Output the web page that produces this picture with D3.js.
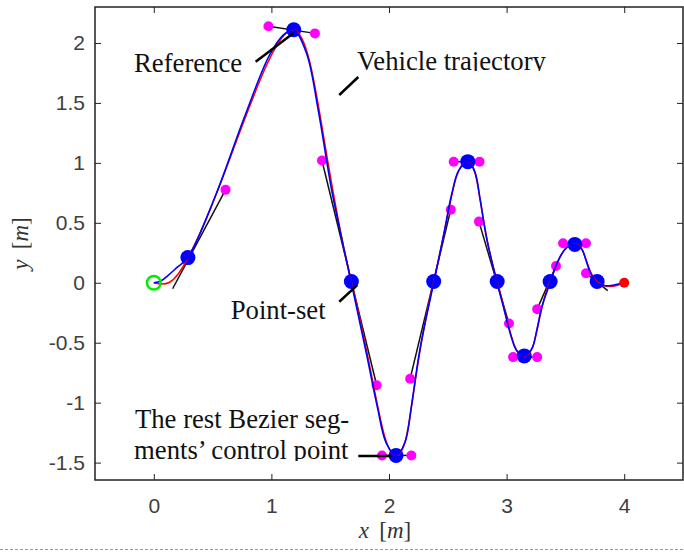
<!DOCTYPE html>
<html>
<head>
<meta charset="utf-8">
<script src="https://cdn.jsdelivr.net/npm/d3@7"></script>
<style>
  body { margin: 0; background: #fff; }
  svg { display: block; }
</style>
</head>
<body>
<svg id="chart"></svg>
<script>
var outerWidth = 684, outerHeight = 552

// axis ticks
var xTicks = [0, 1, 2, 3, 4]
var yTicks = [-1.5, -1, -0.5, 0, 0.5, 1, 1.5, 2]

// point-set (blue dots)
var pointX = [0.29, 1.19, 1.68, 2.06, 2.38, 2.67, 2.92, 3.15, 3.37, 3.58, 3.77]
var pointY = [0.21, 2.11, 0.01, -1.44, 0.01, 1.01, 0.01, -0.61, 0.01, 0.32, 0.01]

// Bezier control points before (in) and after (out) each point-set point
var ctrlInX  = [0.16, 0.975, 1.43, 1.94, 2.18, 2.55, 2.765, 3.055, 3.26, 3.48, 3.675]
var ctrlInY  = [-0.05, 2.14, 1.02, -1.44, -0.80, 1.01, 0.51, -0.62, -0.22, 0.33, 0.08]
var ctrlOutX = [0.61, 1.37, 1.895, 2.19, 2.525, 2.77, 3.02, 3.26, 3.42, 3.675, 3.86]
var ctrlOutY = [0.775, 2.08, -0.855, -1.44, 0.61, 1.01, -0.34, -0.62, 0.14, 0.33, -0.065]

var startPt = [0, 0], endPt = [4, 0], startCtrl = [0.08, -0.02]

// vehicle trajectory
var trajX = [0, 0.06, 0.12, 0.2, 0.29, 0.53, 0.77, 0.985, 1.105, 1.19, 1.3, 1.4, 1.515, 1.68,
             1.808, 1.902, 1.976, 2.06, 2.136, 2.192, 2.262, 2.38, 2.468, 2.531, 2.592, 2.67,
             2.73, 2.775, 2.83, 2.92, 2.983, 3.035, 3.086, 3.15, 3.215, 3.258, 3.303, 3.37,
             3.408, 3.454, 3.51, 3.58, 3.636, 3.673, 3.712, 3.77, 3.82, 3.87, 3.93, 4.0]
var trajY = [0, 0.015, 0.06, 0.13, 0.21, 0.74, 1.38, 1.9, 2.07, 2.11, 1.91, 1.43, 0.76, 0,
             -0.59, -1.04, -1.335, -1.44, -1.33, -1.02, -0.56, 0, 0.415, 0.73, 0.935, 1.01,
             0.925, 0.695, 0.37, 0, -0.24, -0.436, -0.567, -0.61, -0.55, -0.39, -0.19, 0,
             0.11, 0.216, 0.294, 0.32, 0.285, 0.194, 0.085, 0, -0.02, -0.025, -0.015, 0]

var svg = d3.select("svg#chart")
            .attr("width", outerWidth)
            .attr("height", outerHeight)

var xScale = d3.scaleLinear().domain([-0.5, 4.5]).range([95, 683])
var yScale = d3.scaleLinear().domain([-1.645, 2.3]).range([480, 7])

var x0 = xScale.range()[0], x1 = xScale.range()[1]
var yB = yScale.range()[0], yT = yScale.range()[1]

var fmt = function(d) { return String(d) }
var tickFont = "'Liberation Sans', Arial, sans-serif"
var serif = "'Liberation Serif', 'Times New Roman', serif"

function styleAxis(g, showLabels) {
    g.select(".domain").remove()
    g.selectAll(".tick line").attr("stroke", "#222").attr("stroke-width", 1)
    g.selectAll(".tick text")
        .attr("fill", "#404040")
        .attr("font-family", tickFont)
        .attr("font-size", "21px")
    if (!showLabels) g.selectAll(".tick text").remove()
}

svg.append("g").attr("transform", "translate(0," + yB + ")")
    .call(d3.axisBottom(xScale).tickValues(xTicks).tickSize(-6).tickPadding(18).tickFormat(fmt))
    .call(styleAxis, true)
svg.append("g").attr("transform", "translate(0," + yT + ")")
    .call(d3.axisTop(xScale).tickValues(xTicks).tickSize(-6))
    .call(styleAxis, false)
svg.append("g").attr("transform", "translate(" + x0 + ",0)")
    .call(d3.axisLeft(yScale).tickValues(yTicks).tickSize(-6).tickPadding(10).tickFormat(fmt))
    .call(styleAxis, true)
svg.append("g").attr("transform", "translate(" + x1 + ",0)")
    .call(d3.axisRight(yScale).tickValues(yTicks).tickSize(-6))
    .call(styleAxis, false)

svg.append("rect")
    .attr("x", x0).attr("y", yT)
    .attr("width", x1 - x0).attr("height", yB - yT)
    .attr("fill", "none").attr("stroke", "#222").attr("stroke-width", 1.5)

// axis labels
var xl = svg.append("text")
    .attr("x", (x0 + x1) / 2 - 4).attr("y", 538)
    .attr("text-anchor", "middle")
    .attr("font-family", serif).attr("font-size", "23px").attr("fill", "#333")
xl.append("tspan").attr("font-style", "italic").text("x")
xl.append("tspan").text("\u2009 [")
xl.append("tspan").attr("font-style", "italic").text("m")
xl.append("tspan").text("]")

var yl = svg.append("text")
    .attr("transform", "translate(28," + (yB + yT) / 2 + ") rotate(-90)")
    .attr("text-anchor", "middle")
    .attr("font-family", serif).attr("font-size", "23px").attr("fill", "#333")
yl.append("tspan").attr("font-style", "italic").text("y")
yl.append("tspan").text("\u2009 [")
yl.append("tspan").attr("font-style", "italic").text("m")
yl.append("tspan").text("]")

// dashed frame line at bottom
svg.append("line")
    .attr("x1", 0).attr("x2", outerWidth).attr("y1", 549.5).attr("y2", 549.5)
    .attr("stroke", "#999").attr("stroke-width", 1).attr("stroke-dasharray", "3,2")

var plot = svg.append("g")

// tangent lines through each point-set point
plot.selectAll("line.tangent")
    .data(pointX)
    .enter()
    .append("line")
    .attr("class", "tangent")
    .attr("x1", function(d, i) { return xScale(ctrlInX[i]) })
    .attr("y1", function(d, i) { return yScale(ctrlInY[i]) })
    .attr("x2", function(d, i) { return xScale(ctrlOutX[i]) })
    .attr("y2", function(d, i) { return yScale(ctrlOutY[i]) })
    .attr("stroke", "#111")
    .attr("stroke-width", 1.5)

// magenta control points (first and last hidden)
var magenta = []
pointX.forEach(function(d, i) {
    if (i > 0) magenta.push([ctrlInX[i], ctrlInY[i]])
    if (i < pointX.length - 1) magenta.push([ctrlOutX[i], ctrlOutY[i]])
})
plot.selectAll("circle.ctrl")
    .data(magenta)
    .enter()
    .append("circle")
    .attr("class", "ctrl")
    .attr("cx", function(d) { return xScale(d[0]) })
    .attr("cy", function(d) { return yScale(d[1]) })
    .attr("r", 5)
    .attr("fill", "#ff00ff")

plot.selectAll("circle.pt")
    .data(pointX)
    .enter()
    .append("circle")
    .attr("class", "pt")
    .attr("cx", function(d) { return xScale(d) })
    .attr("cy", function(d, i) { return yScale(pointY[i]) })
    .attr("r", 7.5)
    .attr("fill", "#0000ff")

// reference: piecewise Bezier through the point-set
var ref = d3.path()
ref.moveTo(xScale(startPt[0]), yScale(startPt[1]))
ref.bezierCurveTo(xScale(startCtrl[0]), yScale(startCtrl[1]),
                  xScale(ctrlInX[0]), yScale(ctrlInY[0]),
                  xScale(pointX[0]), yScale(pointY[0]))
for (var i = 0; i < pointX.length - 1; i++) {
    ref.bezierCurveTo(xScale(ctrlOutX[i]), yScale(ctrlOutY[i]),
                      xScale(ctrlInX[i + 1]), yScale(ctrlInY[i + 1]),
                      xScale(pointX[i + 1]), yScale(pointY[i + 1]))
}
var last = pointX.length - 1
ref.quadraticCurveTo(xScale(ctrlOutX[last]), yScale(ctrlOutY[last]), xScale(endPt[0]), yScale(endPt[1]))

plot.append("path")
    .attr("d", ref.toString())
    .attr("fill", "none")
    .attr("stroke", "#ff0000")
    .attr("stroke-width", 1.5)

// vehicle trajectory
var traj = trajX.map(function(d, i) { return [d, trajY[i]] })
var line = d3.line()
    .x(function(d) { return xScale(d[0]) })
    .y(function(d) { return yScale(d[1]) })
    .curve(d3.curveCatmullRom.alpha(0.5))

plot.append("path")
    .datum(traj)
    .attr("d", line)
    .attr("fill", "none")
    .attr("stroke", "#0000ff")
    .attr("stroke-width", 1.6)

plot.append("circle")
    .attr("cx", xScale(startPt[0])).attr("cy", yScale(startPt[1]))
    .attr("r", 6.8)
    .attr("fill", "none").attr("stroke", "#00ee00").attr("stroke-width", 2.5)

plot.append("circle")
    .attr("cx", xScale(endPt[0])).attr("cy", yScale(endPt[1]))
    .attr("r", 5)
    .attr("fill", "#ff0000")

// annotations
var labelText = ["Reference", "Vehicle trajectory", "Point-set", "The rest Bezier seg-", "ments\u2019 control point"]
var labelX = [-0.168, 1.728, 0.654, -0.160, -0.168]
var labelY = [1.758, 1.775, -0.305, -1.214, -1.474]
var labelClip = [null, 71, null, null, 461]

var pointerX1 = [0.866, 1.577, 1.577, 1.739]
var pointerY1 = [1.844, 1.566, -0.158, -1.445]
var pointerX2 = [1.186, 1.739, 1.730, 2.017]
var pointerY2 = [2.081, 1.716, -0.019, -1.445]

var defs = svg.append("defs")
labelClip.forEach(function(c, i) {
    if (c === null) return
    defs.append("clipPath").attr("id", "clip" + i)
        .append("rect").attr("x", 0).attr("y", c - 40).attr("width", outerWidth).attr("height", 40)
})

var ann = svg.append("g")
ann.selectAll("line")
    .data(pointerX1)
    .enter()
    .append("line")
    .attr("x1", function(d) { return xScale(d) })
    .attr("y1", function(d, i) { return yScale(pointerY1[i]) })
    .attr("x2", function(d, i) { return xScale(pointerX2[i]) })
    .attr("y2", function(d, i) { return yScale(pointerY2[i]) })
    .attr("stroke", "#000")
    .attr("stroke-width", 2.5)

ann.selectAll("text")
    .data(labelText)
    .enter()
    .append("text")
    .attr("x", function(d, i) { return xScale(labelX[i]) })
    .attr("y", function(d, i) { return yScale(labelY[i]) })
    .attr("clip-path", function(d, i) { return labelClip[i] === null ? null : "url(#clip" + i + ")" })
    .attr("font-family", serif)
    .attr("font-size", "26.7px")
    .attr("fill", "#111")
    .text(function(d) { return d })
</script>
</body>
</html>
